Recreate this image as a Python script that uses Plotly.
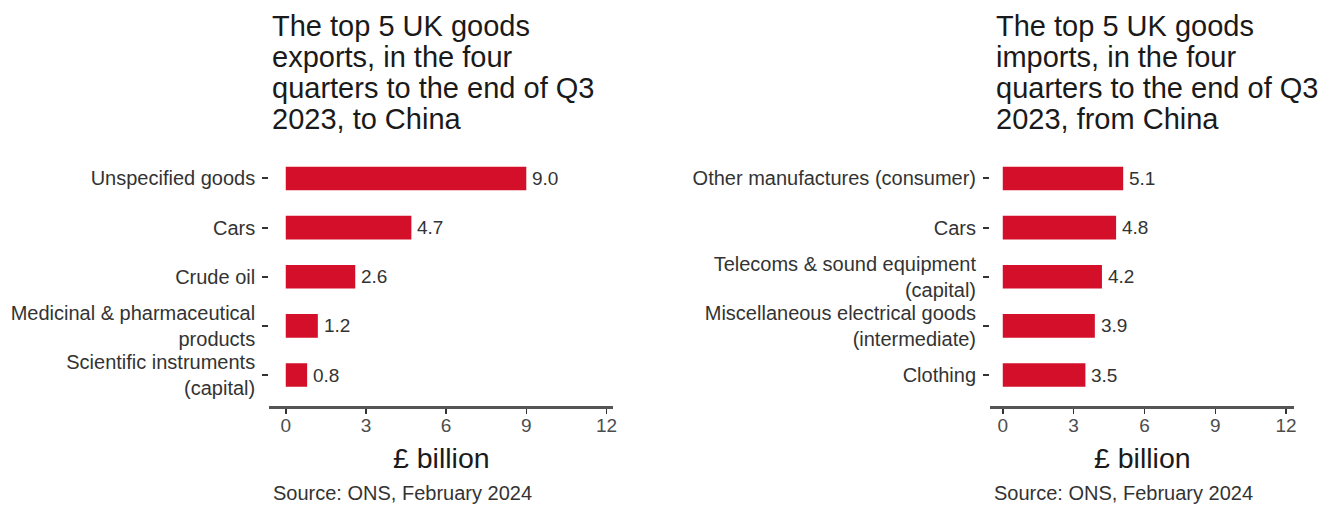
import plotly.graph_objects as go

# ---- data ----
export_categories = ["Unspecified goods", "Cars", "Crude oil",
                     "Medicinal & pharmaceutical<br>products",
                     "Scientific instruments<br>(capital)"]
export_values = [9.0, 4.7, 2.6, 1.2, 0.8]

import_categories = ["Other manufactures (consumer)", "Cars",
                     "Telecoms & sound equipment<br>(capital)",
                     "Miscellaneous electrical goods<br>(intermediate)",
                     "Clothing"]
import_values = [5.1, 4.8, 4.2, 3.9, 3.5]

x_ticks = [0, 3, 6, 9, 12]

export_title = ["The top 5 UK goods", "exports, in the four",
                "quarters to the end of Q3", "2023, to China"]
import_title = ["The top 5 UK goods", "imports, in the four",
                "quarters to the end of Q3", "2023, from China"]
axis_title = "£ billion"
source_text = "Source: ONS, February 2024"

# ---- style ----
W, H = 1333, 505
BAR = "#d40f2a"
FONT = "Liberation Sans, Arial, sans-serif"
DARK = "#333333"

def px_x(p):
    return p / W

def px_y(p):
    return 1 - p / H

fig = go.Figure()

fig.add_trace(go.Bar(
    x=export_values, y=export_categories, orientation="h",
    marker=dict(color=BAR, line=dict(width=0)), width=0.48,
    xaxis="x", yaxis="y", hoverinfo="skip", showlegend=False))

fig.add_trace(go.Bar(
    x=import_values, y=import_categories, orientation="h",
    marker=dict(color=BAR, line=dict(width=0)), width=0.48,
    xaxis="x2", yaxis="y2", hoverinfo="skip", showlegend=False))

y_dom = [px_y(406), px_y(147.5)]

xcommon = dict(tickvals=x_ticks, ticktext=[str(t) for t in x_ticks],
               showgrid=False, zeroline=False, showline=True,
               linecolor="#555555", linewidth=2.5,
               ticks="outside", ticklen=5, tickwidth=1.5, tickcolor="#333333",
               tickfont=dict(family=FONT, size=19, color="#4d4d4d"),
               ticklabelstandoff=-4, fixedrange=True)
ycommon = dict(showgrid=False, zeroline=False, showline=False,
               ticks="outside", ticklen=6, tickwidth=2, tickcolor="#333333",
               tickfont=dict(family=FONT, size=20, color=DARK),
               ticklabelstandoff=3, fixedrange=True)

fig.update_layout(
    width=W, height=H, autosize=False,
    margin=dict(l=0, r=0, t=0, b=0),
    paper_bgcolor="white", plot_bgcolor="white",
    xaxis=dict(domain=[px_x(270), px_x(615)], range=[-0.62, 12.25],
               anchor="y", **xcommon),
    yaxis=dict(domain=y_dom, anchor="x", categoryorder="array",
               categoryarray=export_categories[::-1], range=[-0.63, 4.63],
               **ycommon),
    xaxis2=dict(domain=[px_x(993), px_x(1298)], range=[-0.54, 12.34],
                anchor="y2", **xcommon),
    yaxis2=dict(domain=y_dom, anchor="x2", categoryorder="array",
                categoryarray=import_categories[::-1], range=[-0.63, 4.63],
                **ycommon),
)

ann = []
# value labels next to bars
for cats, vals, xr, yr in ((export_categories, export_values, "x", "y"),
                           (import_categories, import_values, "x2", "y2")):
    for c, v in zip(cats, vals):
        ann.append(dict(text=f"{v:.1f}", x=v, y=c, xref=xr, yref=yr,
                        xanchor="left", yanchor="middle", xshift=4, showarrow=False,
                        font=dict(family=FONT, size=19, color=DARK)))

title_centers = [26, 57, 88, 119]
for lines, x0 in ((export_title, 271), (import_title, 997)):
    for line, yc in zip(lines, title_centers):
        ann.append(dict(text=line, x=px_x(x0), y=px_y(yc), xref="paper", yref="paper",
                        xanchor="left", yanchor="middle", showarrow=False,
                        font=dict(family=FONT, size=29, color="#1a1a1a")))
for xc in (442.5, 1145.5):
    ann.append(dict(text=axis_title, x=px_x(xc), y=px_y(458), xref="paper", yref="paper",
                    xanchor="center", yanchor="middle", showarrow=False,
                    font=dict(family=FONT, size=28.5, color="#1a1a1a")))
for x0 in (272, 995):
    ann.append(dict(text=source_text, x=px_x(x0), y=px_y(493), xref="paper", yref="paper",
                    xanchor="left", yanchor="middle", showarrow=False,
                    font=dict(family=FONT, size=20, color="#333333")))
fig.update_layout(annotations=ann)

fig.write_html("out.html",
               config={"displayModeBar": False, "staticPlot": True},
               post_script="document.body.style.margin='0';"
                           "document.body.style.overflow='hidden';")
